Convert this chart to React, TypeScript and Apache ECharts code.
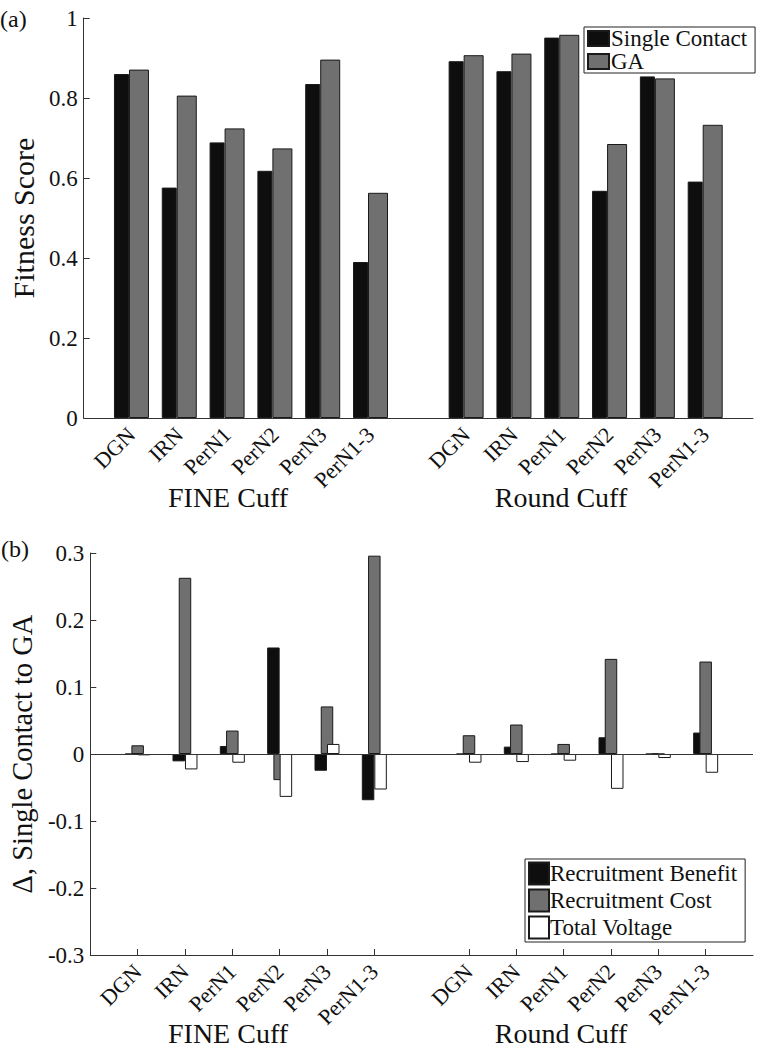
import React, { useEffect, useRef } from "react";
import * as echarts from "echarts";

// ---- data ----
const nerveLabels = ["DGN", "IRN", "PerN1", "PerN2", "PerN3", "PerN1-3"];
const cuffNames = ["FINE Cuff", "Round Cuff"];

// Panel (a): fitness score
const fineSingle = [0.86, 0.576, 0.689, 0.618, 0.835, 0.39];
const roundSingle = [0.892, 0.867, 0.951, 0.568, 0.854, 0.591];
const fineGA = [0.871, 0.806, 0.724, 0.674, 0.896, 0.563];
const roundGA = [0.907, 0.911, 0.958, 0.685, 0.849, 0.733];

// Panel (b): delta single contact to GA
const fineBenefit = [0, -0.011, 0.012, 0.159, -0.025, -0.069];
const roundBenefit = [0, 0.011, 0, 0.025, 0, 0.032];
const fineCost = [0.013, 0.263, 0.035, -0.039, 0.071, 0.296];
const roundCost = [0.028, 0.044, 0.015, 0.142, 0, 0.138];
const fineVoltage = [-0.002, -0.023, -0.013, -0.064, 0.015, -0.053];
const roundVoltage = [-0.013, -0.012, -0.01, -0.052, -0.006, -0.028];

const yTicksA = [0, 0.2, 0.4, 0.6, 0.8, 1];
const yTicksB = [-0.3, -0.2, -0.1, 0, 0.1, 0.2, 0.3];

const seriesNamesA = ["Single Contact", "GA"];
const seriesNamesB = ["Recruitment Benefit", "Recruitment Cost", "Total Voltage"];

// slot layout: empty, 6 FINE, empty, 6 Round, empty
const slotLabels = ["", ...nerveLabels, "", ...nerveLabels, ""];
const slotKeys = slotLabels.map((l, i) => `${i}|${l}`);
const toSlots = (fine: number[], round: number[]) => [null, ...fine, null, ...round, null];

const FONT = "'Liberation Serif', 'Times New Roman', serif";
const TXT = "#111";
const BLACK = "#0e0e0e";
const GRAY = "#707070";
const EDGE = "#1a1a1a";
const AXIS = "#333";

export default function App() {
  const ref = useRef<HTMLDivElement>(null);
  useEffect(() => {
    if (!ref.current) return;
    const chart = echarts.init(ref.current, undefined, { renderer: "svg" });

    const gridA = { left: 81, top: 18, width: 672, height: 400 };
    const gridB = { left: 81, top: 553, width: 672, height: 402 };

    const xAxisBase = (gridIndex: number) => ({
      type: "category",
      gridIndex,
      data: slotKeys,
      boundaryGap: false,
      axisLine: { show: true, onZero: false, lineStyle: { color: AXIS, width: 1 } },
      axisTick: {
        show: true,
        inside: true,
        length: 6,
        interval: (index: number) => slotLabels[index] !== "",
        lineStyle: { color: AXIS },
      },
      axisLabel: {
        interval: 0,
        rotate: 45,
        margin: 13,
        fontFamily: FONT,
        fontSize: 22,
        color: TXT,
        formatter: (v: string) => v.split("|")[1],
      },
      splitLine: { show: false },
    });

    const yAxisBase = (
      gridIndex: number,
      min: number,
      max: number,
      name: string,
      nameSize: number,
      nameGap: number
    ) => ({
      type: "value",
      gridIndex,
      min,
      max,
      interval: 0.1 * (gridIndex === 0 ? 2 : 1),
      name,
      nameLocation: "middle",
      nameGap,
      nameTextStyle: { fontFamily: FONT, fontSize: nameSize, color: TXT },
      axisLine: { show: true, lineStyle: { color: AXIS, width: 1 } },
      axisTick: { show: true, inside: true, length: 6, lineStyle: { color: AXIS } },
      axisLabel: {
        fontFamily: FONT,
        fontSize: 23,
        color: TXT,
        margin: 6,
        formatter: (v: number) => {
          const ticks = gridIndex === 0 ? yTicksA : yTicksB;
          const t = ticks.find((k) => Math.abs(k - v) < 1e-9);
          return t === undefined ? "" : String(t);
        },
      },
      splitLine: { show: false },
    });

    const barItem = (color: string) => ({ color, borderColor: EDGE, borderWidth: 1 });

    const option = {
      animation: false,
      backgroundColor: "#fff",
      textStyle: { fontFamily: FONT },
      grid: [gridA, gridB],
      xAxis: [xAxisBase(0), xAxisBase(1)],
      yAxis: [
        yAxisBase(0, 0, 1, "Fitness Score", 30, 27),
        yAxisBase(1, -0.3, 0.3, "Δ, Single Contact to GA", 28.5, 28),
      ],
      legend: [
        {
          data: seriesNamesA,
          orient: "vertical",
          left: 584,
          top: 27,
          backgroundColor: "#fff",
          borderColor: "#222",
          borderWidth: 1,
          borderRadius: 0,
          padding: [0, 8, 0, 3],
          itemGap: 0,
          itemWidth: 21,
          itemHeight: 15,
          icon: "rect",
          textStyle: { fontFamily: FONT, fontSize: 23, color: TXT, padding: [0, 0, 0, -3] },
        },
        {
          data: seriesNamesB,
          orient: "vertical",
          left: 525,
          top: 859,
          backgroundColor: "#fff",
          borderColor: "#222",
          borderWidth: 1,
          borderRadius: 0,
          padding: [1, 8, 1, 3],
          itemGap: 0,
          itemWidth: 20,
          itemHeight: 22,
          icon: "rect",
          textStyle: { fontFamily: FONT, fontSize: 23, color: TXT, lineHeight: 27, padding: [0, 0, 0, -4] },
        },
      ],
      series: [
        {
          name: seriesNamesA[0],
          type: "bar",
          xAxisIndex: 0,
          yAxisIndex: 0,
          data: toSlots(fineSingle, roundSingle),
          barWidth: 15,
          barGap: 0,
          itemStyle: barItem(BLACK),
        },
        {
          name: seriesNamesA[1],
          type: "bar",
          xAxisIndex: 0,
          yAxisIndex: 0,
          data: toSlots(fineGA, roundGA),
          barWidth: 20,
          barGap: 0,
          itemStyle: barItem(GRAY),
        },
        {
          name: seriesNamesB[0],
          type: "bar",
          xAxisIndex: 1,
          yAxisIndex: 1,
          data: toSlots(fineBenefit, roundBenefit),
          barWidth: 12.5,
          barGap: "-50%",
          itemStyle: barItem(BLACK),
          markLine: {
            silent: true,
            symbol: "none",
            label: { show: false },
            lineStyle: { color: "#333", width: 1, type: "solid" },
            data: [{ yAxis: 0 }],
          },
        },
        {
          name: seriesNamesB[1],
          type: "bar",
          xAxisIndex: 1,
          yAxisIndex: 1,
          data: toSlots(fineCost, roundCost),
          barWidth: 12.5,
          barGap: "-50%",
          itemStyle: barItem(GRAY),
        },
        {
          name: seriesNamesB[2],
          type: "bar",
          xAxisIndex: 1,
          yAxisIndex: 1,
          data: toSlots(fineVoltage, roundVoltage),
          barWidth: 12.5,
          barGap: "-50%",
          itemStyle: barItem("#ffffff"),
        },
      ],
      graphic: [
        { type: "text", left: 0, top: 7, style: { text: "(a)", font: `24px ${FONT}`, fill: TXT } },
        { type: "text", left: 1, top: 537, style: { text: "(b)", font: `24px ${FONT}`, fill: TXT } },
        { type: "text", x: 228, y: 497, style: { text: cuffNames[0], font: `28px ${FONT}`, fill: TXT, align: "center", verticalAlign: "middle" } },
        { type: "text", x: 561, y: 497, style: { text: cuffNames[1], font: `28px ${FONT}`, fill: TXT, align: "center", verticalAlign: "middle" } },
        { type: "text", x: 228, y: 1033, style: { text: cuffNames[0], font: `28px ${FONT}`, fill: TXT, align: "center", verticalAlign: "middle" } },
        { type: "text", x: 561, y: 1033, style: { text: cuffNames[1], font: `28px ${FONT}`, fill: TXT, align: "center", verticalAlign: "middle" } },
      ],
    };

    chart.setOption(option as any);
    return () => chart.dispose();
  }, []);

  return (
    <div
      ref={ref}
      style={{ position: "fixed", left: 0, top: 0, width: 774, height: 1050, background: "#fff" }}
    />
  );
}
